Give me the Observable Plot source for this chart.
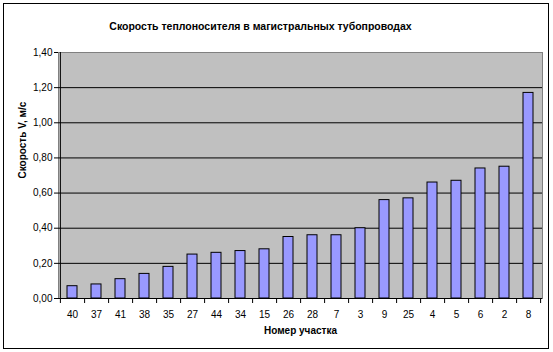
<!DOCTYPE html>
<html><head><meta charset="utf-8">
<script src="https://cdn.jsdelivr.net/npm/d3@7"></script>
<script src="https://cdn.jsdelivr.net/npm/@observablehq/plot@0.6"></script>
<style>
body{margin:0;background:#fff}
#wrap{position:relative;width:553px;height:352px}
#border{position:absolute;left:3px;top:3px;width:544px;height:344px;border:1px solid #000;pointer-events:none}
</style>
</head><body><div id="wrap"><div id="border"></div></div>
<script>
const title = "Скорость теплоносителя в магистральных тубопроводах";
const xTitle = "Номер участка";
const yTitle = "Скорость V, м/с";
const sections = ["40","37","41","38","35","27","44","34","15","26","28","7","3","9","25","4","5","6","2","8"];
const speeds = [0.07,0.08,0.11,0.14,0.18,0.25,0.26,0.27,0.28,0.35,0.36,0.36,0.40,0.56,0.57,0.66,0.67,0.74,0.75,1.17];
const yTicks = [0,0.2,0.4,0.6,0.8,1.0,1.2,1.4];

const W=553,H=352,mL=58,mR=11,mT=52,mB=54;
const step=(W-mL-mR)/sections.length;
const yMax=1.4;
const tickPx=5;
const tickData=-tickPx*yMax/(H-mT-mB); // tick length expressed in y units
const data=sections.map((s,i)=>({s,v:speeds[i]}));
const fmt=d=>d.toFixed(2).replace(".",",");
const font="'Liberation Sans', Arial, sans-serif";

const chart=Plot.plot({
  width:W,height:H,marginLeft:mL,marginRight:mR,marginTop:mT,marginBottom:mB,
  style:{fontFamily:font,fontSize:"10px",color:"#000",background:"transparent",overflow:"visible"},
  x:{domain:sections,paddingInner:0.58,paddingOuter:0.29,label:null},
  y:{domain:[0,yMax],label:null},
  marks:[
    Plot.frame({fill:"#c0c0c0",stroke:"#808080"}),
    Plot.gridY(yTicks.filter(d=>d>0&&d<yMax),{stroke:"#000",strokeOpacity:1}),
    Plot.barY(data,{x:"s",y:"v",fill:"#9999ff",stroke:"#000",strokeWidth:1}),
    Plot.ruleY([0],{stroke:"#000"}),
    Plot.ruleX([sections[0]],{dx:-step/2,stroke:"#000"}),
    Plot.ruleX(sections,{dx:step/2,y1:0,y2:tickData,stroke:"#000"}),
    Plot.ruleX([sections[0]],{dx:-step/2,y1:0,y2:tickData,stroke:"#000"}),
    Plot.axisY({ticks:yTicks,tickFormat:fmt,tickSize:4,tickPadding:2,stroke:"#000",fill:"#000",label:null}),
    Plot.axisX({tickSize:0,tickPadding:12,fill:"#000",label:null}),
    Plot.text([title],{frameAnchor:"top",dy:-30,dx:-40,fontWeight:"bold",fontSize:10.5,fill:"#000"}),
    Plot.text([xTitle],{frameAnchor:"bottom",dy:35,fontWeight:"bold",fontSize:10,fill:"#000"}),
    Plot.text([yTitle],{frameAnchor:"left",dx:-36,dy:3,rotate:-90,fontWeight:"bold",fontSize:10,fill:"#000"})
  ]
});
document.getElementById("wrap").prepend(chart);
</script>
</body></html>
